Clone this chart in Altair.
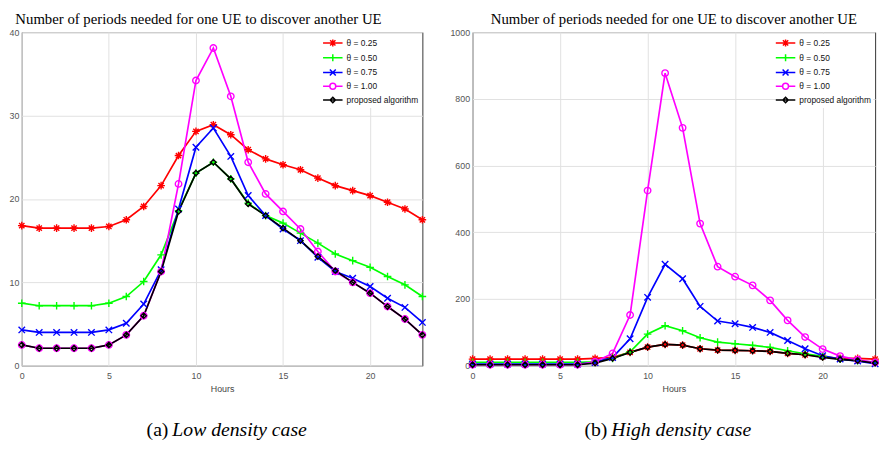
import altair as alt
import pandas as pd

hours = list(range(24))
series_names = ["θ = 0.25", "θ = 0.50", "θ = 0.75", "θ = 1.00", "proposed algorithm"]
series_colors = ["#ff0000", "#00ff00", "#0000ff", "#ff00ff", "#000000"]

# marker shapes for the data points (unit box -1..1)
marker_paths = [
    "M-1,0L1,0M0,-1L0,1M-0.7,-0.7L0.7,0.7M-0.7,0.7L0.7,-0.7",
    "M-1,0L1,0M0,-1L0,1",
    "M-0.85,-0.85L0.85,0.85M-0.85,0.85L0.85,-0.85",
    "M0.85,0A0.85,0.85,0,1,1,-0.85,0A0.85,0.85,0,1,1,0.85,0Z",
    "M0,-0.7L0.7,0L0,0.7L-0.7,0Z",
]
# legend symbols: a line segment with the marker on it
legend_paths = [
    "M-1.65,0L1.65,0M0,-0.6L0,0.6M-0.45,-0.45L0.45,0.45M-0.45,0.45L0.45,-0.45",
    "M-1.65,0L1.65,0M0,-0.6L0,0.6",
    "M-1.65,0L1.65,0M-0.5,-0.5L0.5,0.5M-0.5,0.5L0.5,-0.5",
    "M-1.65,0L-0.5,0M0.5,0L1.65,0M0.5,0A0.5,0.5,0,1,1,-0.5,0A0.5,0.5,0,1,1,0.5,0Z",
    "M-1.65,0L1.65,0M0,-0.45L0.45,0L0,0.45L-0.45,0Z",
]

# (a) Low density case
low_025 = [16.8, 16.5, 16.5, 16.5, 16.5, 16.7, 17.5, 19.1, 21.6, 25.2, 28.1, 28.9,
           27.7, 25.9, 24.8, 24.1, 23.5, 22.5, 21.6, 21.0, 20.4, 19.6, 18.8, 17.5]
low_050 = [7.5, 7.2, 7.2, 7.2, 7.2, 7.5, 8.3, 10.1, 13.3, 18.6, 23.1, 24.4,
           22.4, 19.5, 18.0, 17.1, 15.9, 14.7, 13.4, 12.6, 11.8, 10.7, 9.7, 8.3]
low_075 = [4.3, 4.0, 4.0, 4.0, 4.0, 4.3, 5.1, 7.4, 11.5, 18.8, 26.2, 28.5,
           25.1, 20.4, 18.0, 16.4, 15.0, 13.0, 11.3, 10.5, 9.5, 8.1, 7.0, 5.2]
low_100 = [2.5, 2.1, 2.1, 2.1, 2.1, 2.5, 3.7, 6.0, 11.3, 21.8, 34.2, 38.1,
           32.3, 24.4, 20.6, 18.5, 16.4, 13.7, 11.3, 10.0, 8.7, 7.1, 5.6, 3.7]
low_prop = [2.5, 2.1, 2.1, 2.1, 2.1, 2.5, 3.7, 6.0, 11.3, 18.5, 23.1, 24.4,
            22.4, 19.4, 18.0, 16.5, 15.0, 13.1, 11.4, 10.0, 8.7, 7.1, 5.6, 3.7]

# (b) High density case
high_025 = [20, 20, 20, 20, 20, 20, 20, 22, 25, 40, 56, 64,
            62, 51, 47, 46, 45, 43, 37, 33, 27, 22, 22, 20]
high_050 = [10, 10, 10, 10, 10, 10, 10, 12, 22, 42, 95, 120,
            105, 84, 71, 66, 61, 55, 45, 36, 28, 20, 15, 10]
high_075 = [5, 5, 5, 5, 5, 5, 5, 10, 25, 81, 205, 304,
            261, 178, 134, 126, 115, 100, 76, 51, 30, 20, 14, 6]
high_100 = [3, 3, 3, 3, 3, 3, 3, 12, 37, 152, 525, 877,
            713, 426, 297, 267, 241, 196, 136, 86, 50, 29, 18, 10]
high_prop = [3, 3, 3, 3, 3, 3, 3, 8, 22, 40, 56, 64,
             62, 51, 47, 46, 45, 43, 37, 33, 25, 19, 15, 8]

titles = ["Number of periods needed for one UE to discover another UE"] * 2
caption_tags = ["(a)", "(b)"]
caption_texts = ["Low density case", "High density case"]


def long_frame(series_values):
    rows = []
    for name, vals in zip(series_names, series_values):
        for h, v in zip(hours, vals):
            rows.append({"series": name, "hour": h, "value": v})
    return pd.DataFrame(rows)


def panel(df, ymax, ystep, width, height, tag, text, split_x, title_dx):
    base = alt.Chart(df)
    x = alt.X("hour:Q", scale=alt.Scale(domain=[0, 23], nice=False),
              axis=alt.Axis(values=[0, 5, 10, 15, 20], title="Hours",
                            labelPadding=6, titlePadding=4))
    y = alt.Y("value:Q", scale=alt.Scale(domain=[0, ymax], nice=False),
              axis=alt.Axis(values=list(range(0, ymax + 1, ystep)), title=None,
                            labelPadding=3, format="d"))
    cscale = alt.Scale(domain=series_names, range=series_colors)
    color = alt.Color("series:N", scale=cscale, legend=alt.Legend(title=None))

    lines = base.mark_line(strokeWidth=1.7).encode(
        x=x, y=y, color=color, order=alt.Order("hour:Q"))
    marker_layers = []
    for name, path in zip(series_names, marker_paths):
        marker_layers.append(
            base.transform_filter(alt.datum.series == name).mark_point(
                filled=False, size=60, strokeWidth=1.4, opacity=1, shape=path).encode(
                x=x, y=y, color=color))
    leg = base.mark_point(filled=False, opacity=0).encode(
        x=x, y=y, color=color,
        shape=alt.Shape("series:N", scale=alt.Scale(domain=series_names, range=legend_paths),
                        legend=alt.Legend(title=None)))

    cap_df = pd.DataFrame({"tag": [tag], "text": [text]})
    cap_tag = alt.Chart(cap_df).mark_text(
        font="Liberation Serif", fontSize=20, align="right", baseline="alphabetic",
        color="black").encode(x=alt.value(split_x), y=alt.value(height + 71), text="tag:N")
    cap_txt = alt.Chart(cap_df).mark_text(
        font="Liberation Serif", fontSize=20, fontStyle="italic", align="left",
        baseline="alphabetic", color="black").encode(
        x=alt.value(split_x + 4), y=alt.value(height + 71), text="text:N")

    return alt.layer(lines, *marker_layers, leg, cap_tag, cap_txt).properties(
        width=width, height=height,
        title=alt.TitleParams(titles[0], font="Liberation Serif", fontSize=15,
                              fontWeight="normal", color="black", anchor="middle",
                              dx=title_dx, offset=1))


left = panel(long_frame([low_025, low_050, low_075, low_100, low_prop]),
             40, 10, 407, 339, caption_tags[0], caption_texts[0], 149, -24)
right = panel(long_frame([high_025, high_050, high_075, high_100, high_prop]),
              1000, 200, 409, 339, caption_tags[1], caption_texts[1], 137, 0)

chart = alt.hconcat(left, right, spacing=19).resolve_scale(
    color="independent", shape="independent").resolve_legend(
    color="independent", shape="independent").properties(padding=0).configure_view(
    stroke="#333333", strokeWidth=1).configure_axis(
    labelFont="Liberation Sans", labelFontSize=9, labelColor="#555555",
    titleFont="Liberation Sans", titleFontSize=9, titleColor="#444444",
    titleFontWeight="normal", ticks=False, domain=False, gridColor="#e0e0e0",
    gridWidth=1, labelFlush=False).configure_legend(
    orient="top-right", offset=2, padding=2, rowPadding=1, symbolSize=144,
    symbolStrokeWidth=1.5, labelFontSize=8.5, labelFont="Liberation Sans",
    labelColor="#111111", labelOffset=7, fillColor="white")

chart.save("out.html", embed_options={"renderer": "svg", "actions": False})
